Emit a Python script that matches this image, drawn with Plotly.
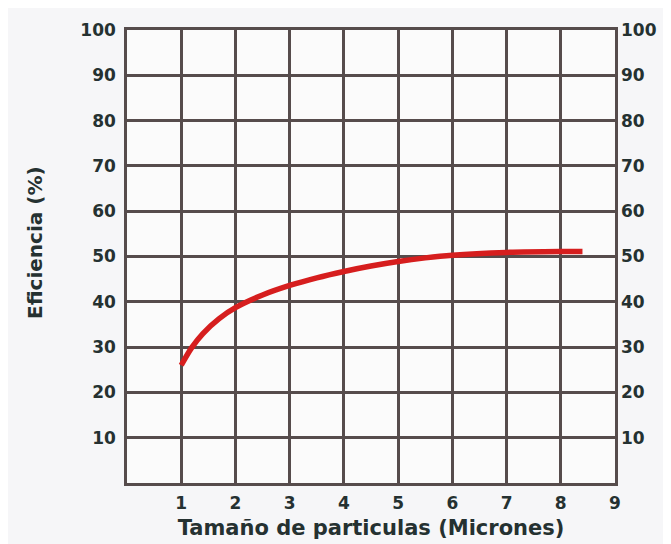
import plotly.graph_objects as go

# Data
particle_size = [1.0, 1.2, 1.4, 1.7, 2.0, 2.5, 3.0, 3.5, 4.0, 4.5, 5.0, 5.5, 6.0, 7.0, 8.0, 8.4]
efficiency = [26.0, 30.0, 33.0, 36.3, 38.7, 41.5, 43.6, 45.3, 46.7, 47.9, 48.9, 49.7, 50.3, 50.9, 51.1, 51.1]

x_ticks = [1, 2, 3, 4, 5, 6, 7, 8, 9]
y_ticks = [10, 20, 30, 40, 50, 60, 70, 80, 90, 100]

grid_color = "#564c4c"
label_color = "#253131"
FONT = "DejaVu Sans, Verdana, sans-serif"
tick_font = dict(family=FONT, size=17, color=label_color, weight="bold")

fig = go.Figure()
fig.add_trace(go.Scatter(
    x=particle_size, y=efficiency, mode="lines",
    line=dict(color="#d61e1e", width=5.5, shape="spline", smoothing=1.0),
    showlegend=False, hoverinfo="skip"))
# invisible trace so the right-hand axis is drawn
fig.add_trace(go.Scatter(x=[0], y=[0], yaxis="y2", mode="markers",
                         marker=dict(opacity=0), showlegend=False, hoverinfo="skip"))

fig.update_layout(
    width=671, height=544,
    margin=dict(l=119, r=64, t=17, b=69),
    paper_bgcolor="#f6f6f8",
    plot_bgcolor="#fbfbfb",
    xaxis=dict(range=[0, 9], tickvals=x_ticks, showgrid=True, gridcolor=grid_color,
               gridwidth=2.5, showline=True, linecolor=grid_color, linewidth=2.5,
               mirror=True, zeroline=False, ticks="", tickfont=tick_font,
               ticklabelstandoff=3,
               title=dict(text="Tamaño de particulas (Micrones)", standoff=9,
                          font=dict(family=FONT, size=21, color=label_color, weight="bold"))),
    yaxis=dict(range=[0, 100], tickvals=y_ticks, showgrid=True, gridcolor=grid_color,
               gridwidth=2.5, showline=True, linecolor=grid_color, linewidth=2.5,
               mirror=True, zeroline=False, ticks="", tickfont=tick_font,
               ticklabelstandoff=5),
    yaxis2=dict(range=[0, 100], tickvals=y_ticks, overlaying="y", side="right",
                showgrid=False, zeroline=False, showline=False, ticks="",
                tickfont=tick_font, ticklabelstandoff=5),
    annotations=[dict(text="Eficiencia (%)", xref="paper", yref="paper",
                      x=-0.1885, y=0.53, xanchor="center", yanchor="middle",
                      textangle=-90, showarrow=False,
                      font=dict(family=FONT, size=20, color=label_color, weight="bold"))],
)

fig.write_html("out.html")
